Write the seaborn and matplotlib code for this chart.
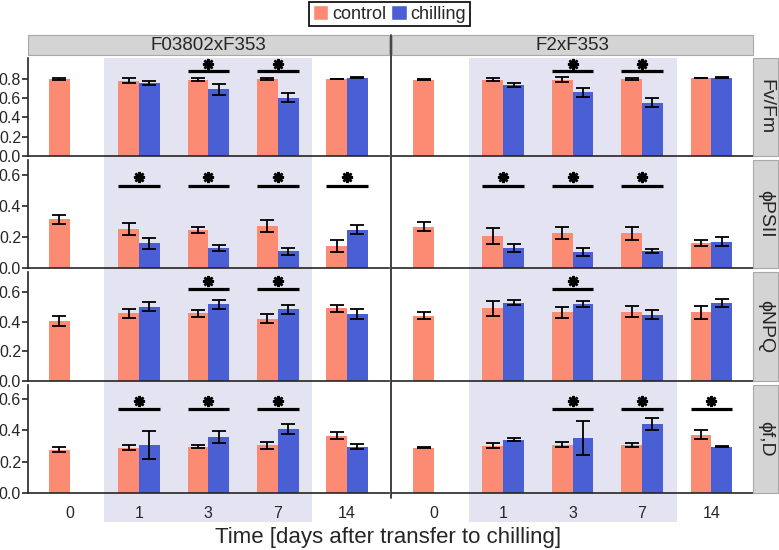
import numpy as np
import pandas as pd
import matplotlib.pyplot as plt
import seaborn as sns
import matplotlib.transforms as mtransforms
from matplotlib.patches import Rectangle, Patch
from matplotlib.lines import Line2D

sns.set_style("ticks")
plt.rcParams["font.family"] = ["Liberation Sans", "DejaVu Sans"]

# ---------------------------------------------------------------
# data (mean, error bar half-width)
# row order in each list: F03802 control, F03802 chilling, F2 control, F2 chilling
# ---------------------------------------------------------------
days = ["0", "1", "3", "7", "14"]
treatments = ["control", "chilling"]
genotypes = ["F03802xF353", "F2xF353"]
params = ["Fv/Fm", "ϕPSII", "ϕNPQ", "ϕf,D"]
nan = np.nan

fvfm_mean = [[0.80, 0.78, 0.79, 0.80, 0.80],
             [nan, 0.753, 0.69, 0.605, 0.81],
             [0.79, 0.79, 0.79, 0.80, 0.81],
             [nan, 0.733, 0.66, 0.553, 0.81]]
fvfm_err = [[0.01, 0.025, 0.015, 0.01, 0.003],
            [nan, 0.02, 0.055, 0.05, 0.005],
            [0.005, 0.015, 0.025, 0.01, 0.003],
            [nan, 0.02, 0.05, 0.05, 0.005]]

psii_mean = [[0.315, 0.25, 0.247, 0.272, 0.143],
             [nan, 0.16, 0.128, 0.108, 0.247],
             [0.266, 0.206, 0.225, 0.225, 0.162],
             [nan, 0.128, 0.102, 0.11, 0.17]]
psii_err = [[0.03, 0.04, 0.02, 0.04, 0.04],
            [nan, 0.035, 0.02, 0.022, 0.03],
            [0.03, 0.05, 0.04, 0.042, 0.02],
            [nan, 0.024, 0.025, 0.015, 0.03]]

npq_mean = [[0.405, 0.456, 0.456, 0.422, 0.49],
            [nan, 0.503, 0.517, 0.483, 0.454],
            [0.44, 0.49, 0.463, 0.467, 0.463],
            [nan, 0.53, 0.517, 0.447, 0.53]]
npq_err = [[0.036, 0.031, 0.021, 0.031, 0.025],
           [nan, 0.03, 0.028, 0.033, 0.034],
           [0.024, 0.05, 0.035, 0.037, 0.044],
           [nan, 0.017, 0.02, 0.031, 0.027]]

fd_mean = [[0.274, 0.288, 0.293, 0.303, 0.364],
           [nan, 0.305, 0.354, 0.406, 0.295],
           [0.288, 0.30, 0.307, 0.305, 0.37],
           [nan, 0.339, 0.35, 0.44, 0.293]]
fd_err = [[0.016, 0.014, 0.01, 0.021, 0.023],
          [nan, 0.092, 0.039, 0.03, 0.017],
          [0.003, 0.015, 0.017, 0.015, 0.03],
          [nan, 0.008, 0.11, 0.037, 0.003]]

# days with a significant control/chilling difference, per genotype
sig_fvfm = [["3", "7"], ["3", "7"]]
sig_psii = [["1", "3", "7", "14"], ["1", "3", "7"]]
sig_npq = [["3", "7"], ["3"]]
sig_fd = [["1", "3", "7"], ["3", "7", "14"]]

# ---------------------------------------------------------------
# long table
# ---------------------------------------------------------------
all_mean = [fvfm_mean, psii_mean, npq_mean, fd_mean]
all_err = [fvfm_err, psii_err, npq_err, fd_err]
all_sig = [sig_fvfm, sig_psii, sig_npq, sig_fd]

records = []
for p, param in enumerate(params):
    for g, geno in enumerate(genotypes):
        for t, treat in enumerate(treatments):
            k = g * 2 + t
            for d, day in enumerate(days):
                records.append({"param": param, "genotype": geno, "treatment": treat,
                                "day": day, "mean": all_mean[p][k][d], "err": all_err[p][k][d]})
df = pd.DataFrame(records).dropna(subset=["mean"])

palette = {"control": "#fb8b72", "chilling": "#4b5fd5"}
shade = "#e3e3f1"
strip_fc, strip_ec = "#d4d4d4", "#a8a8a8"

ytop = [1.016, 0.697, 0.736, 0.686]
yticks = [np.arange(0, 0.81, 0.2)] + [np.arange(0, 0.61, 0.2)] * 3
line_y = [0.881, 0.529, 0.624, 0.532]
star_y = [0.953, 0.589, 0.678, 0.583]
x_off = {"control": -0.15, "chilling": 0.15}

W, H = 779, 550
fig, axes = plt.subplots(4, 2, figsize=(W / 100, H / 100), dpi=100, sharex=True,
                         gridspec_kw=dict(height_ratios=[98, 108, 109, 108]))
fig.subplots_adjust(left=28 / W, right=753 / W, top=1 - 58 / H, bottom=1 - 493 / H,
                    hspace=0.038, wspace=0.01)

for r, param in enumerate(params):
    for c, geno in enumerate(genotypes):
        ax = axes[r, c]
        sub = df[(df["param"] == param) & (df["genotype"] == geno)]
        sns.barplot(data=sub, x="day", y="mean", hue="treatment", order=days,
                    hue_order=treatments, palette=palette, width=0.6, saturation=1,
                    errorbar=None, legend=False, linewidth=0, edgecolor="none", ax=ax)
        for _, row in sub.iterrows():
            x = days.index(row["day"]) + x_off[row["treatment"]]
            ax.errorbar(x, row["mean"], yerr=row["err"], color="black", lw=1.3,
                        capsize=5, capthick=1.3)
        for d in all_sig[r][c]:
            i = days.index(d)
            ax.plot([i - 0.3, i + 0.3], [line_y[r], line_y[r]], color="black", lw=2.3,
                    solid_capstyle="butt")
            ax.plot(i, star_y[r], marker=(8, 2, 0), ms=8, mew=1.8, color="black")

        ax.set_xlim(-0.6, 4.6)
        ax.set_ylim(0, ytop[r])
        ax.set_yticks(yticks[r])
        ax.set_xlabel("")
        ax.set_ylabel("")
        ax.set_facecolor("none")
        sns.despine(ax=ax)
        ax.spines["bottom"].set_linewidth(1.2)
        ax.spines["left"].set_linewidth(1.2)
        ax.tick_params(axis="x", length=0, pad=9, labelsize=11.5)
        ax.tick_params(axis="y", length=4, width=1.2, pad=1, labelsize=11.5)
        if c == 1:
            ax.spines["left"].set_visible(False)
            ax.tick_params(axis="y", left=False, labelleft=False)

# shaded chilling period (days 1-7), running through all rows and tick labels
for c in range(2):
    trans = mtransforms.blended_transform_factory(axes[3, c].transData, fig.transFigure)
    fig.add_artist(Rectangle((0.5, 1 - 522 / H), 3.0, (522 - 58) / H, transform=trans,
                             facecolor=shade, edgecolor="none", zorder=-1))

# facet strips
for c, geno in enumerate(genotypes):
    bb = axes[0, c].get_position()
    fig.add_artist(Rectangle((bb.x0, 1 - 55 / H), bb.width, 20 / H, transform=fig.transFigure,
                             facecolor=strip_fc, edgecolor=strip_ec, lw=0.8))
    fig.text(bb.x0 + bb.width / 2, 1 - 45.5 / H, geno, ha="center", va="center", fontsize=13.5)

for r, param in enumerate(params):
    bb = axes[r, 1].get_position()
    fig.add_artist(Rectangle((bb.x1, bb.y0), 25 / W, bb.height, transform=fig.transFigure,
                             facecolor=strip_fc, edgecolor=strip_ec, lw=0.8))
    fig.text(bb.x1 + 12.5 / W, bb.y0 + bb.height / 2, param, rotation=-90,
             ha="center", va="center", fontsize=14)

# separator between the two genotypes
xs = (axes[0, 0].get_position().x1 + axes[0, 1].get_position().x0) / 2
fig.add_artist(Line2D([xs, xs], [1 - 35 / H, 1 - 498 / H], color="#333333", lw=1.3))

handles = [Patch(facecolor=palette[t], label=t) for t in treatments]
leg = fig.legend(handles=handles, loc="upper center", bbox_to_anchor=(0.5, 1.0), ncol=2,
                 frameon=True, fancybox=False, edgecolor="black", framealpha=1, fontsize=13,
                 handlelength=0.85, handleheight=0.85, handletextpad=0.2, columnspacing=0.3,
                 borderpad=0.2, borderaxespad=0.1)
leg.get_frame().set_linewidth(1.2)

fig.text(0.4987, 1 - 538 / H, "Time [days after transfer to chilling]", ha="center",
         va="center", fontsize=16)

fig.savefig("out.png", dpi=100)
